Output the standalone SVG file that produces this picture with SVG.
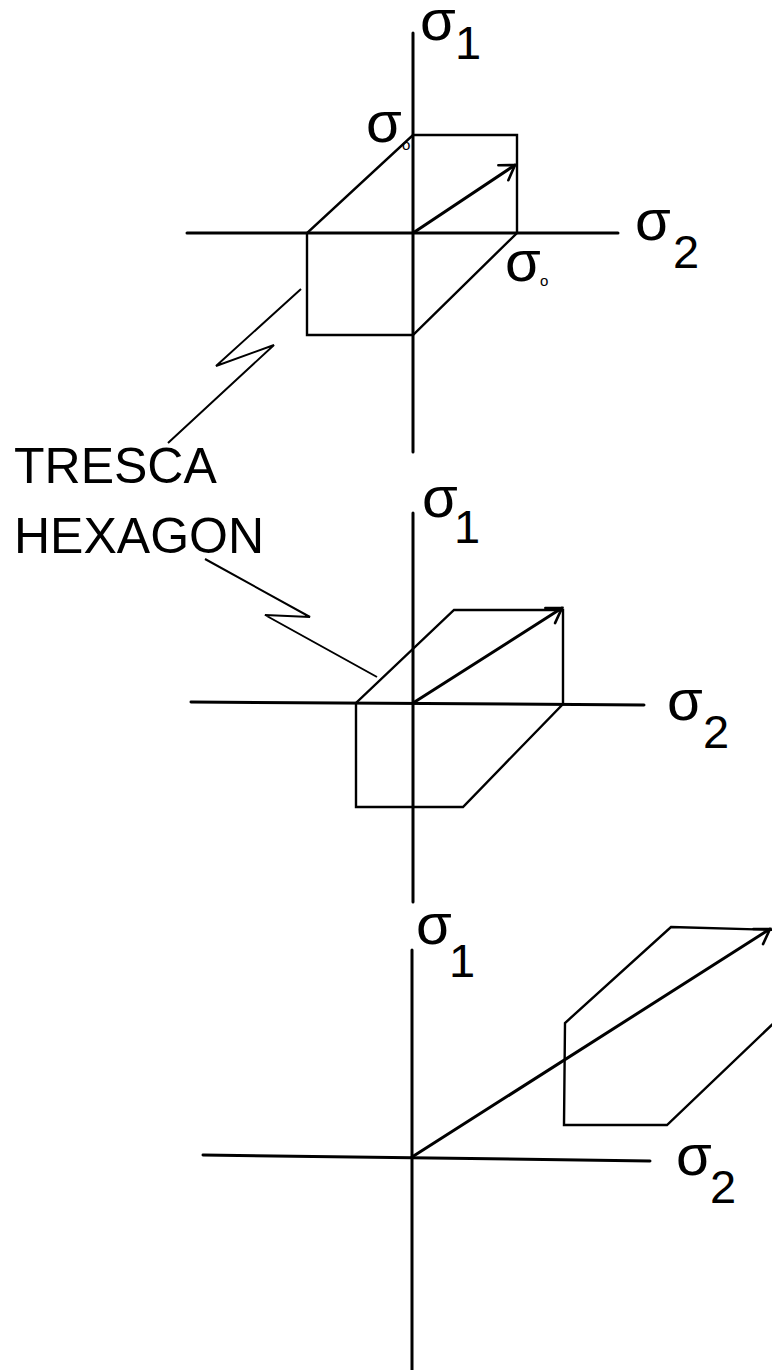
<svg xmlns="http://www.w3.org/2000/svg" width="772" height="1370" viewBox="0 0 772 1370">
<style>
  .axis { stroke:#000; stroke-width:3; fill:none; stroke-linecap:round; }
  .hex { stroke:#000; stroke-width:2.4; fill:none; stroke-linejoin:miter; }
  .vec { stroke:#000; stroke-width:3; fill:none; stroke-linecap:round; }
  .lead { stroke:#000; stroke-width:2; fill:none; stroke-linejoin:miter; }
  .sym { font-family:"Liberation Sans", Arial, sans-serif; font-size:58px; fill:#000; }
  .sub { font-family:"Liberation Sans", Arial, sans-serif; font-size:47px; fill:#000; }
  .sub0 { font-family:"Liberation Sans", Arial, sans-serif; font-size:15px; fill:#000; }
  .cap { font-family:"Liberation Sans", Arial, sans-serif; font-size:50px; fill:#000; }
</style>
<defs>
  <marker id="head" markerUnits="userSpaceOnUse" markerWidth="30" markerHeight="30" refX="0" refY="0" viewBox="-20 -15 25 30" orient="auto">
    <path d="M -14 -9 L 0 0 L -14 9" fill="none" stroke="#000" stroke-width="2.6" stroke-linecap="round" stroke-linejoin="miter"/>
  </marker>
</defs>
<rect width="772" height="1370" fill="#fff"/>

<g id="panel-top">
  <line class="axis" x1="413" y1="33" x2="413" y2="452"/>
  <line class="axis" x1="187" y1="233" x2="618" y2="233"/>
  <polygon class="hex" points="413,135 517,135 517,233 413,335 307,335 307,233"/>
  <line class="vec" x1="413" y1="233" x2="515" y2="165" marker-end="url(#head)"/>
  <text class="sym" x="420" y="40">σ</text>
  <text class="sub" x="455" y="59">1</text>
  <text class="sym" x="635" y="240">σ</text>
  <text class="sub" x="673" y="268">2</text>
  <text class="sym" x="366" y="142">σ</text>
  <text class="sub0" x="402" y="150">o</text>
  <text class="sym" x="505" y="281">σ</text>
  <text class="sub0" x="540" y="286">o</text>
</g>

<g id="panel-middle">
  <line class="axis" x1="413" y1="513" x2="413" y2="902"/>
  <line class="axis" x1="191" y1="702" x2="644" y2="705"/>
  <polygon class="hex" points="454,610 563,610 563,704 463,807 356,807 356,703"/>
  <line class="vec" x1="413" y1="703" x2="562" y2="608" marker-end="url(#head)"/>
  <text class="sym" x="422" y="517">σ</text>
  <text class="sub" x="454" y="543">1</text>
  <text class="sym" x="667" y="720">σ</text>
  <text class="sub" x="703" y="748">2</text>
</g>

<g id="panel-bottom">
  <line class="axis" x1="412" y1="950" x2="412" y2="1372"/>
  <line class="axis" x1="203" y1="1155" x2="650" y2="1161"/>
  <polygon class="hex" points="671,927 778,930 778,1019 667,1125 564,1125 565,1023"/>
  <line class="vec" x1="412" y1="1157" x2="770" y2="929" marker-end="url(#head)"/>
  <text class="sym" x="416" y="944">σ</text>
  <text class="sub" x="449" y="977">1</text>
  <text class="sym" x="676" y="1175">σ</text>
  <text class="sub" x="710" y="1203">2</text>
</g>

<g id="label-tresca">
  <text class="cap" x="14" y="483">TRESCA</text>
  <text class="cap" x="14" y="553">HEXAGON</text>
</g>

<g id="connectors">
  <polyline class="lead" points="301,289 216,366 274,345 168,443"/>
  <polyline class="lead" points="205,559 310,617 265,615 377,677"/>
</g>
</svg>
